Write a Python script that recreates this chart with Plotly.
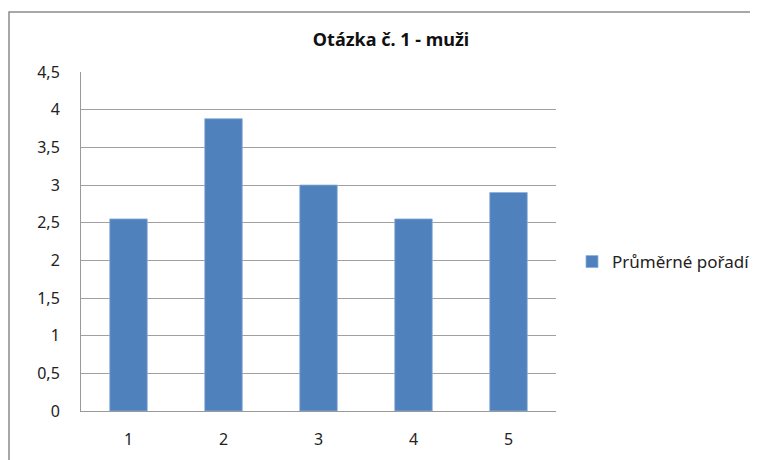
import plotly.graph_objects as go

categories = ["1", "2", "3", "4", "5"]
values = [2.55, 3.88, 3.0, 2.55, 2.9]
series_name = "Průměrné pořadí"
title_text = "Otázka č. 1 - muži"
y_ticks = [0, 0.5, 1, 1.5, 2, 2.5, 3, 3.5, 4, 4.5]
y_tick_labels = ["0", "0,5", "1", "1,5", "2", "2,5", "3", "3,5", "4", "4,5"]

# page body has an 8px margin; figure coordinates are page - 8
W, H = 750, 452
L, R, T, B = 73, 202, 64, 49
pw = W - L - R
ph = H - T - B

font_family = "Noto Sans, DejaVu Sans, sans-serif"

fig = go.Figure()
fig.add_trace(go.Bar(
    x=categories, y=values, name=series_name,
    marker=dict(color="#4F81BD", line=dict(color="#8DB0DA", width=0.8)),
    showlegend=True,
))

fig.update_layout(
    width=W, height=H,
    margin=dict(l=L, r=R, t=T, b=B, autoexpand=False),
    paper_bgcolor="white", plot_bgcolor="white",
    bargap=0.605,
    font=dict(family=font_family, size=15, color="#222222"),
    title=dict(text="<b>" + title_text + "</b>", x=383 / W, xanchor="center",
               xref="container", y=1 - 32 / H, yref="container", yanchor="middle",
               font=dict(size=18, color="#111111", family=font_family)),
    showlegend=True,
    legend=dict(x=(564 - L) / pw, xanchor="left", y=(H - B - 254) / ph, yanchor="middle",
                font=dict(size=17, color="#222222"), bgcolor="rgba(0,0,0,0)",
                itemwidth=30, traceorder="normal"),
    xaxis=dict(type="category", showgrid=False, showline=True, linecolor="#999999",
               linewidth=1, ticks="", ticklabelstandoff=14,
               tickfont=dict(size=16, color="#222222")),
    yaxis=dict(range=[0, 4.5], tickvals=y_ticks, ticktext=y_tick_labels,
               showgrid=True, gridcolor="#A0A0A0", gridwidth=1,
               showline=True, linecolor="#999999", linewidth=1, ticks="",
               ticklabelstandoff=17, zeroline=False,
               tickfont=dict(size=16, color="#222222")),
    shapes=[dict(type="rect", xref="paper", yref="paper",
                 x0=(1 - L) / pw, x1=(W + 20 - L) / pw,
                 y0=-(B + 20) / ph, y1=(H - B - 4) / ph,
                 line=dict(color="#8C8C8C", width=1.5), fillcolor="rgba(0,0,0,0)",
                 layer="below")],
)

fig.write_html("out.html")
